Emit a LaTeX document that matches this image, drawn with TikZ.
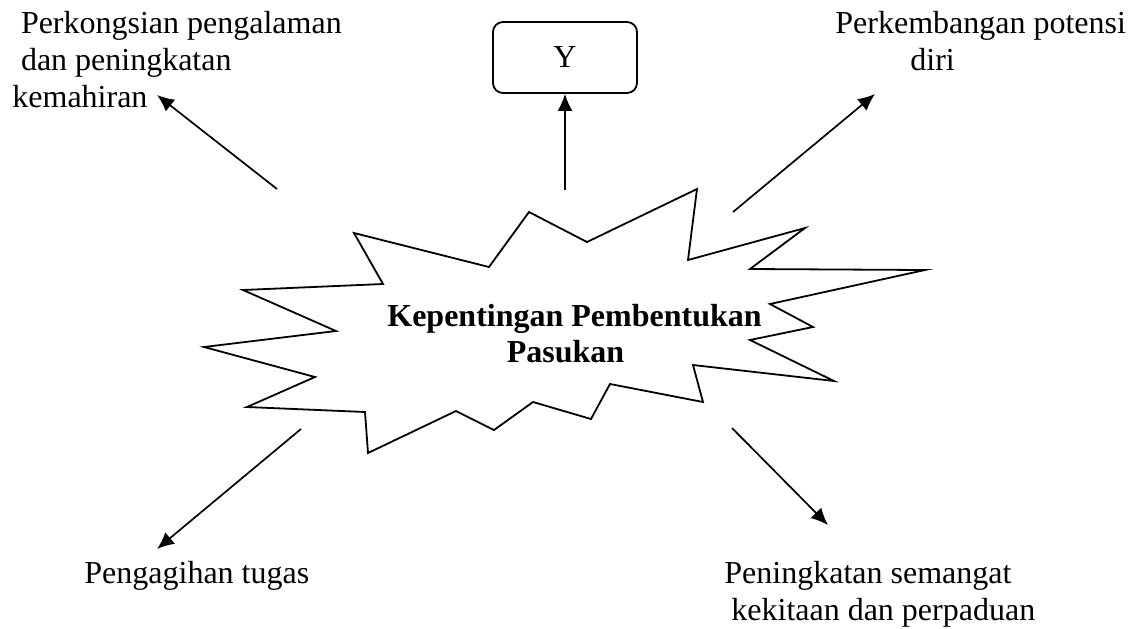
\documentclass[tikz,border=0pt]{standalone}
\usepackage{fontspec}
\setmainfont{Liberation Serif}
\usetikzlibrary{arrows.meta,positioning}

\begin{document}
\begin{tikzpicture}[
    x=0.5pt, y=-0.5pt,
    txt/.style={font=\fontsize{16}{18.4}\selectfont,inner sep=0pt,align=left},
    box/.style={rectangle,draw,rounded corners=5pt,line width=0.9pt,minimum width=72pt,minimum height=35.5pt,inner sep=0pt},
    burst/.style={line width=0.9pt,line join=miter},
    arrow/.style={-{Latex[length=8.5pt,width=7.5pt]},line width=0.85pt}
]
    \useasboundingbox (0,0) rectangle (1132,628);

    % the burst shape
    \draw[burst] (354,233) -- (489,267) -- (529,212) -- (587,242) -- (697,189) -- (688,260)
        -- (805,228) -- (750,269) -- (925,270) -- (770,304) -- (813,327) -- (750,340)
        -- (834,381) -- (693,365) -- (703,402) -- (610,384) -- (591,419) -- (533,402)
        -- (494,430) -- (456,411) -- (368,453) -- (365,412) -- (247,407) -- (315,377)
        -- (204,347) -- (336,331) -- (243,290) -- (383,284) -- cycle;
    \node[txt,align=center,font=\fontsize{16}{18}\selectfont\bfseries] (team) at (574.5,334)
        {Kepentingan Pembentukan\\Pasukan\hspace*{9pt}};

    % labels round it
    \node[box,font=\fontsize{16}{18.4}\selectfont] (ybox) at (565,57.5) {\raisebox{-1.2pt}{Y}};
    \node[txt,anchor=north west] (share) at (12,11)
        {\hspace*{4.3pt}Perkongsian pengalaman\\\hspace*{4.3pt}dan peningkatan\\kemahiran};
    \node[txt,anchor=north west] (grow) at (835,11)
        {Perkembangan potensi\\\hspace*{37.5pt}diri};
    \node[txt,anchor=base west] (task) at (84,583) {Pengagihan tugas};
    \node[txt,anchor=north west] (spirit) at (724,561)
        {Peningkatan semangat\\\hspace*{3.5pt}kekitaan dan perpaduan};

    % arrow ends
    \coordinate (s_share) at (277,189);
    \coordinate (e_share) at (157,95);
    \coordinate (s_y) at (565,190);
    \coordinate (s_grow) at (733,212);
    \coordinate (e_grow) at (875,94);
    \coordinate (s_task) at (301,429);
    \coordinate (e_task) at (157,549);
    \coordinate (s_spirit) at (732,428);
    \coordinate (e_spirit) at (828,525);

    \draw[arrow] (s_share) -- (e_share);
    \draw[arrow] (s_y) -- (ybox);
    \draw[arrow] (s_grow) -- (e_grow);
    \draw[arrow] (s_task) -- (e_task);
    \draw[arrow] (s_spirit) -- (e_spirit);
\end{tikzpicture}
\end{document}
